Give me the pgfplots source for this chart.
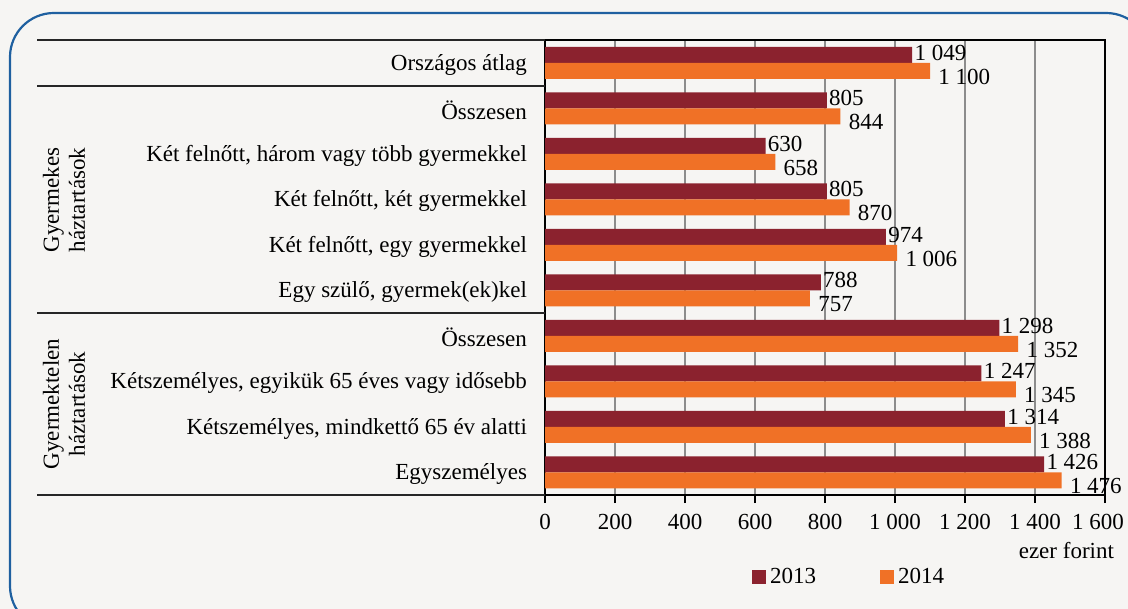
\documentclass[border=0pt]{standalone}
\usepackage{pgfplots}
\pgfplotsset{compat=1.18}
\usepackage{fontspec}
\setmainfont{Liberation Serif}
\definecolor{bg}{RGB}{246,245,243}
\definecolor{cA}{RGB}{139,34,46}
\definecolor{cB}{RGB}{240,113,38}
\definecolor{frame}{RGB}{31,96,160}
\definecolor{gridc}{RGB}{140,140,140}
\begin{document}
\begin{tikzpicture}[font=\fontsize{11.5}{13}\selectfont]
\begin{scope}[x=0.5pt,y=-0.5pt]
\begin{scope}
\clip (0,0) rectangle (1128,609);
\fill[bg] (0,0) rectangle (1128,609);
\draw[frame, line width=1.1pt, rounded corners=22pt] (10,13) rectangle (1150,630);
\end{scope}
\end{scope}
\begin{axis}[
  at={(272.5pt,-247.5pt)}, anchor=south west,
  width=280pt, height=227.5pt, scale only axis,
  xmin=0, xmax=1600, ymin=-0.5, ymax=9.5, y dir=reverse,
  xtick={0,200,...,1600},
  xticklabels={0,200,400,600,800,1\ 000,1\ 200,1\ 400,1\ 600\kern7pt},
  xtick pos=bottom,
  xticklabel style={yshift=-2pt},
  ytick={0,...,9},
  yticklabels={Országos átlag, Összesen, {Két felnőtt, három vagy több gyermekkel}, {Két felnőtt, két gyermekkel}, {Két felnőtt, egy gyermekkel}, {Egy szülő, gyermek(ek)kel}, Összesen, {Kétszemélyes, egyikük 65 éves vagy idősebb}, {Kétszemélyes, mindkettő 65 év alatti}, Egyszemélyes},
  ytick style={draw=none},
  yticklabel style={xshift=-1.5pt, yshift=-1pt},
  xmajorgrids, grid style={gridc, line width=0.6pt},
  axis line style={line width=1pt},
  tick align=outside, xtick style={black, line width=0.8pt}, major tick length=4pt,
  xbar, bar width=8pt,
  nodes near coords,
  every node near coord/.append style={anchor=west, inner sep=1pt, black},
  legend style={at={(0.545,-0.18)}, anchor=center, draw=none, fill=none, legend columns=2, /tikz/every even column/.append style={column sep=30pt}},
  legend image code/.code={\fill[#1] (0pt,-3.5pt) rectangle (7pt,3.5pt);},
  /pgf/number format/.cd, 1000 sep={\ }, assume math mode=true,
]
\addplot[fill=cA, draw=none, bar shift=4pt, every node near coord/.append style={yshift=1pt}] coordinates {(1049,0) (805,1) (630,2) (805,3) (974,4) (788,5) (1298,6) (1247,7) (1314,8) (1426,9)};
\addplot[fill=cB, draw=none, bar shift=-4pt, every node near coord/.append style={yshift=-3pt, xshift=3pt}] coordinates {(1100,0) (844,1) (658,2) (870,3) (1006,4) (757,5) (1352,6) (1345,7) (1388,8) (1476,9)};
\legend{2013, 2014}
\end{axis}
\begin{scope}[x=0.5pt,y=-0.5pt]
\foreach \yy in {40,86,313,495} {\draw[line width=1pt, black!85] (37,\yy) -- (545,\yy);}
\node[rotate=90, align=center] at (64,200) {Gyermekes\\háztartások};
\node[rotate=90, align=center] at (64,404) {Gyermektelen\\háztartások};
\node[anchor=east] at (1121,551) {ezer forint};
\pgfresetboundingbox
\useasboundingbox (0,0) rectangle (1128,609);
\end{scope}
\end{tikzpicture}
\end{document}
